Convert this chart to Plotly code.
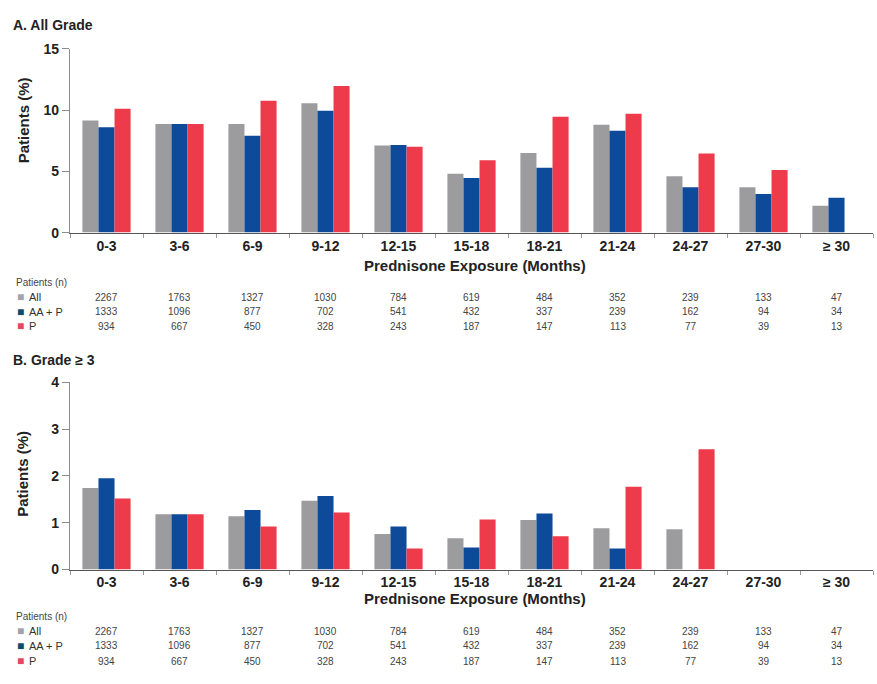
import plotly.graph_objects as go

W, H = 877, 684

categories = ["0-3", "3-6", "6-9", "9-12", "12-15", "15-18", "18-21",
              "21-24", "24-27", "27-30", "\u2265 30"]

# Panel A: all-grade incidence (%)
all_grade_all = [9.15, 8.85, 8.85, 10.55, 7.1, 4.8, 6.5, 8.8, 4.6, 3.7, 2.2]
all_grade_aap = [8.6, 8.85, 7.9, 9.95, 7.15, 4.45, 5.3, 8.3, 3.7, 3.15, 2.85]
all_grade_p = [10.1, 8.85, 10.75, 11.95, 7.0, 5.9, 9.45, 9.7, 6.45, 5.1, 0]

# Panel B: grade >= 3 incidence (%)
g3_all = [1.74, 1.18, 1.14, 1.47, 0.76, 0.67, 1.06, 0.88, 0.86, 0, 0]
g3_aap = [1.95, 1.18, 1.27, 1.57, 0.92, 0.47, 1.2, 0.45, 0, 0, 0]
g3_p = [1.52, 1.18, 0.92, 1.22, 0.45, 1.07, 0.71, 1.77, 2.57, 0, 0]

# Patients at risk (n)
n_all = [2267, 1763, 1327, 1030, 784, 619, 484, 352, 239, 133, 47]
n_aap = [1333, 1096, 877, 702, 541, 432, 337, 239, 162, 94, 34]
n_p = [934, 667, 450, 328, 243, 187, 147, 113, 77, 39, 13]

series_names = ["All", "AA + P", "P"]
bar_colors = ["#9c9c9f", "#0e4a9a", "#ee3b4b"]
key_colors = ["#a3a3ab", "#0d4a6e", "#e24862"]

FONT = "Liberation Sans, Arial, sans-serif"


def px_x(p):
    return p / W


def px_y(p):
    return 1 - p / H


fig = go.Figure()

panels = [
    dict(x="x", y="y", data=[all_grade_all, all_grade_aap, all_grade_p]),
    dict(x="x2", y="y2", data=[g3_all, g3_aap, g3_p]),
]
for pan in panels:
    for name, vals, col in zip(series_names, pan["data"], bar_colors):
        fig.add_trace(go.Bar(x=categories, y=vals, name=name, marker_color=col,
                             marker_line_width=0, xaxis=pan["x"], yaxis=pan["y"],
                             showlegend=False))

x_dom = [px_x(70), px_x(873)]
common_x = dict(domain=x_dom, type="category", range=[-0.5, 10.5],
                showline=True, linecolor="#555555", linewidth=1.2,
                ticks="outside", tickson="boundaries", ticklen=4,
                tickcolor="#999999", showgrid=False,
                tickfont=dict(family=FONT, size=14, color="#222222", weight="bold"))
common_y = dict(showline=True, linecolor="#8c8c8c", linewidth=1.2,
                ticks="outside", ticklen=7, tickcolor="#8c8c8c", showgrid=False,
                zeroline=False,
                tickfont=dict(family=FONT, size=14, color="#222222", weight="bold"))

fig.update_layout(
    width=W, height=H, margin=dict(l=0, r=0, t=0, b=0),
    paper_bgcolor="white", plot_bgcolor="white",
    barmode="group", bargap=0.34, bargroupgap=0,
    xaxis=dict(common_x, anchor="y"),
    xaxis2=dict(common_x, anchor="y2"),
    yaxis=dict(common_y, anchor="x", domain=[px_y(230), px_y(41.7)],
               range=[0, 15], tickvals=[0, 5, 10, 15]),
    yaxis2=dict(common_y, anchor="x2", domain=[px_y(575), px_y(383.3)],
                range=[0, 4], tickvals=[0, 1, 2, 3, 4]),
)

ann = []


def text(x, y, s, size, xref="paper", bold=False, color="#222222",
         xanchor="left", angle=0):
    ann.append(dict(x=x, y=y, xref=xref, yref="paper", text=s, showarrow=False,
                    xanchor=xanchor, yanchor="middle", textangle=angle,
                    font=dict(family=FONT, size=size, color=color,
                              weight="bold" if bold else "normal")))


# Panel titles and axis titles
text(px_x(11), px_y(17), "A. All Grade", 14, bold=True)
text(px_x(11), px_y(360), "B. Grade \u2265 3", 14, bold=True)
text(px_x(23), px_y(115), "Patients (%)", 15, bold=True, xanchor="center", angle=-90)
text(px_x(23), px_y(477), "Patients (%)", 15, bold=True, xanchor="center", angle=-90)
text(px_x(475), px_y(264), "Prednisone Exposure (Months)", 15, bold=True, xanchor="center")
text(px_x(475), px_y(605), "Prednisone Exposure (Months)", 15, bold=True, xanchor="center")

# Patients-at-risk tables
tables = [dict(xref="x", head=281, rows=[296, 311, 326]),
          dict(xref="x2", head=623, rows=[638, 653, 669])]
for tb in tables:
    text(px_x(14), px_y(tb["head"]), "Patients (n)", 10, color="#444444")
    for name, counts, kc, ry in zip(series_names, [n_all, n_aap, n_p],
                                    key_colors, tb["rows"]):
        text(px_x(15), px_y(ry), "\u25A0", 12, color=kc)
        text(px_x(27), px_y(ry), name, 11, color="#333333")
        for i, n in enumerate(counts):
            text(i, px_y(ry), str(n), 10, xref=tb["xref"], color="#444444",
                 xanchor="center")

fig.update_layout(annotations=ann)
fig.write_html("out.html", post_script="document.body.style.margin='0';")
